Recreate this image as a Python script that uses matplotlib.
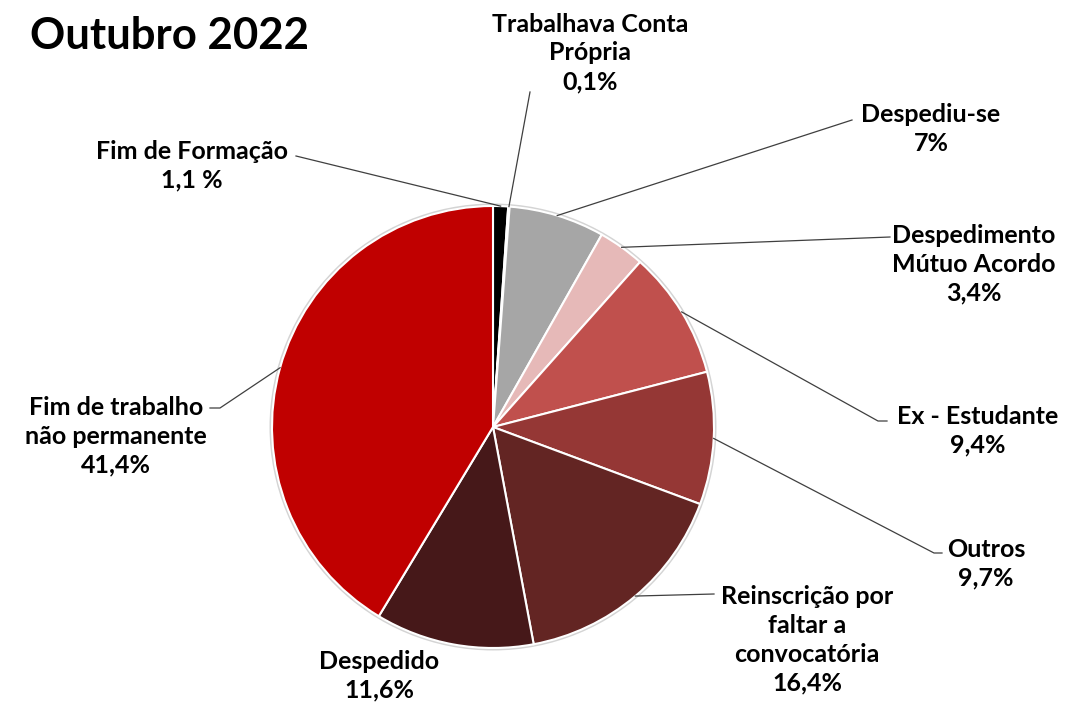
import numpy as np
import matplotlib.pyplot as plt
from matplotlib.patches import Circle

plt.rcParams['font.family'] = ['Lato', 'DejaVu Sans']

# motivos de inscrição - outubro 2022
labels = ['Fim de Formação\n1,1 %', 'Trabalhava Conta\nPrópria\n0,1%', 'Despediu-se\n7%',
          'Despedimento\nMútuo Acordo\n3,4%', 'Ex - Estudante\n9,4%', 'Outros\n9,7%',
          'Reinscrição por\nfaltar a\nconvocatória\n16,4%', 'Despedido\n11,6%',
          'Fim de trabalho\nnão permanente\n41,4%']
valores = [1.1, 0.1, 7, 3.4, 9.4, 9.7, 16.4, 11.6, 41.4]
cores = ['#000000', '#ffffff', '#a6a6a6', '#e6b9b8', '#c0504d', '#953735',
         '#632523', '#461819', '#c00000']

# posição dos rótulos (px, origem em cima à esquerda) e início das linhas
pos_texto = [(192, 166), (590, 53), (931, 129), (974, 264), (978, 431),
             (986, 564), (807, 640), (379, 676), (116, 436)]
inicio_linha = [(296, 156), (530, 92), (852, 120), (890, 237), (887, 421),
                (942, 553), (714, 594), None, (210, 408)]
cotovelo = [None, None, None, None, (878, 421), (934, 553), None, None, (220, 408)]

W, H = 1085, 706
cx, cy, r = 493, 427, 221

fig = plt.figure(figsize=(10.85, 7.06), dpi=100)
ax = fig.add_axes([0, 0, 1, 1])

ax.add_patch(Circle((cx, H - cy), r + 2.5, facecolor='#d4d4d4', edgecolor='none', zorder=0))
wedges, _ = ax.pie(valores, colors=cores, startangle=90, counterclock=False,
                   center=(cx, H - cy), radius=r, frame=True,
                   wedgeprops=dict(edgecolor='white', linewidth=1.5))
ax.set_xlim(0, W)
ax.set_ylim(0, H)
ax.set_aspect('equal')
ax.axis('off')

for w, lab, (tx, ty), ini, cot in zip(wedges, labels, pos_texto, inicio_linha, cotovelo):
    ax.text(tx, H - ty, lab, ha='center', va='center', fontsize=18, fontweight='bold',
            linespacing=1.3, color='#000000')
    if ini is None:
        continue
    ang = np.deg2rad((w.theta1 + w.theta2) / 2)
    px = cx + r * np.cos(ang)
    py = H - cy + r * np.sin(ang)
    xs = [ini[0]]
    ys = [H - ini[1]]
    if cot is not None:
        xs.append(cot[0])
        ys.append(H - cot[1])
    xs.append(px)
    ys.append(py)
    ax.plot(xs, ys, color='#3f3f3f', linewidth=0.9, zorder=1)

ax.text(30, H - 36, 'Outubro 2022', ha='left', va='center', fontsize=31.5, fontweight='bold')

fig.savefig('out.png', dpi=100)
